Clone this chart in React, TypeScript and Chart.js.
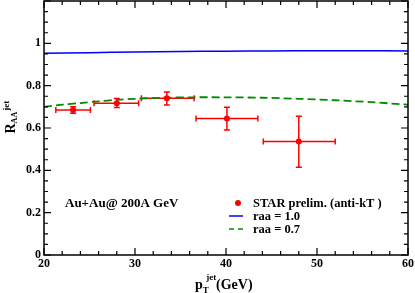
import React, { useEffect, useRef } from 'react';
import { Chart, registerables } from 'chart.js';

Chart.register(...registerables);

// STAR preliminary data points
const starPt = [23.2, 28.0, 33.5, 40.1, 48.0];
const starRaa = [0.685, 0.717, 0.741, 0.645, 0.536];
const starXLow = [21.3, 25.5, 30.7, 36.7, 44.1];
const starXHigh = [25.1, 30.4, 36.5, 43.5, 52.0];
const starYLow = [0.670, 0.697, 0.709, 0.591, 0.415];
const starYHigh = [0.700, 0.739, 0.770, 0.698, 0.656];

// model curves
const curve10X = [20, 25, 30, 35, 40, 45, 50, 55, 60];
const curve10Y = [0.953, 0.956, 0.959, 0.961, 0.963, 0.964, 0.965, 0.965, 0.964];
const curve07X = [20, 22, 24, 26, 28, 30, 33, 36, 40, 44, 48, 52, 56, 60];
const curve07Y = [0.700, 0.710, 0.718, 0.726, 0.733, 0.738, 0.743, 0.745, 0.745, 0.743, 0.738, 0.731, 0.722, 0.710];

// ticks
const xTickValues = [20, 30, 40, 50, 60];
const xTickLabels = ['20', '30', '40', '50', '60'];
const yTickValues = [0, 0.2, 0.4, 0.6, 0.8, 1.0];
const yTickLabels = ['0', '0.2', '0.4', '0.6', '0.8', '1'];

const legendLabels = ['STAR prelim. (anti-kT )', 'raa = 1.0', 'raa = 0.7'];
const systemLabel = 'Au+Au@ 200A GeV';

const RED = 'rgb(255,0,0)';
const BLUE = 'rgb(0,0,255)';
const GREEN = 'rgb(0,140,0)';
const SERIF = "'Liberation Serif', 'Times New Roman', serif";

const decorPlugin = {
  id: 'decor',
  beforeDatasetsDraw(chart: any) {
    const ctx = chart.ctx;
    const xs = chart.scales.x;
    const ys = chart.scales.y;
    ctx.save();
    ctx.strokeStyle = RED;
    ctx.lineWidth = 1.5;
    const cap = 3;
    for (let i = 0; i < starPt.length; i++) {
      const px = xs.getPixelForValue(starPt[i]);
      const py = ys.getPixelForValue(starRaa[i]);
      const xl = xs.getPixelForValue(starXLow[i]);
      const xh = xs.getPixelForValue(starXHigh[i]);
      const yl = ys.getPixelForValue(starYLow[i]);
      const yh = ys.getPixelForValue(starYHigh[i]);
      ctx.beginPath();
      ctx.moveTo(xl, py); ctx.lineTo(xh, py);
      ctx.moveTo(xl, py - cap); ctx.lineTo(xl, py + cap);
      ctx.moveTo(xh, py - cap); ctx.lineTo(xh, py + cap);
      ctx.moveTo(px, yl); ctx.lineTo(px, yh);
      ctx.moveTo(px - cap, yl); ctx.lineTo(px + cap, yl);
      ctx.moveTo(px - cap, yh); ctx.lineTo(px + cap, yh);
      ctx.stroke();
    }
    ctx.restore();
  },
  afterDraw(chart: any) {
    const ctx = chart.ctx;
    const ca = chart.chartArea;
    const xs = chart.scales.x;
    const ys = chart.scales.y;
    ctx.save();
    // frame
    ctx.strokeStyle = '#000';
    ctx.lineWidth = 1.5;
    ctx.strokeRect(ca.left, ca.top, ca.right - ca.left, ca.bottom - ca.top);
    // ticks
    ctx.lineWidth = 1.2;
    ctx.beginPath();
    for (let v = 20; v <= 60; v += 2) {
      const px = xs.getPixelForValue(v);
      const len = v % 10 === 0 ? 7 : 4;
      ctx.moveTo(px, ca.bottom); ctx.lineTo(px, ca.bottom - len);
      ctx.moveTo(px, ca.top); ctx.lineTo(px, ca.top + len);
    }
    for (let i = 0; i <= 24; i++) {
      const py = ys.getPixelForValue(i * 0.05);
      const len = i % 4 === 0 ? 7 : 4;
      ctx.moveTo(ca.left, py); ctx.lineTo(ca.left + len, py);
      ctx.moveTo(ca.right, py); ctx.lineTo(ca.right - len, py);
    }
    ctx.stroke();

    ctx.fillStyle = '#000';
    ctx.textBaseline = 'alphabetic';
    ctx.textAlign = 'left';

    // x axis title: p_T^jet (GeV)
    const cx = (ca.left + ca.right) / 2;
    const bx = cx - 31;
    const by = ca.bottom + 34;
    ctx.font = `bold 14px ${SERIF}`;
    ctx.fillText('p', bx, by);
    const pw = ctx.measureText('p').width;
    ctx.font = `bold 9px ${SERIF}`;
    ctx.fillText('T', bx + pw, by + 3.5);
    ctx.fillText('jet', bx + pw + 3.5, by - 9.5);
    ctx.font = `bold 14px ${SERIF}`;
    ctx.fillText('(GeV)', bx + 21, by);

    // y axis title: R_AA^jet
    const cy = (ca.top + ca.bottom) / 2;
    ctx.save();
    ctx.translate(14.5, cy + 5.5);
    ctx.rotate(-Math.PI / 2);
    ctx.font = `bold 14px ${SERIF}`;
    ctx.fillText('R', 0, 0);
    const rw = ctx.measureText('R').width;
    ctx.font = `bold 8px ${SERIF}`;
    ctx.fillText('AA', rw, 2.5);
    const aw = ctx.measureText('AA').width;
    ctx.font = `bold 9px ${SERIF}`;
    ctx.fillText('jet', rw + aw + 1, -6);
    ctx.restore();

    // system label
    ctx.font = `bold 13px ${SERIF}`;
    ctx.fillText(systemLabel, ca.left + 21, ca.bottom - 48);

    // legend
    const lx = ca.left + 185;
    const rows = [ca.bottom - 52, ca.bottom - 39, ca.bottom - 26];
    const tx = ca.left + 209;
    ctx.fillStyle = RED;
    ctx.beginPath();
    ctx.arc(lx + 9, rows[0], 3, 0, Math.PI * 2);
    ctx.fill();
    ctx.strokeStyle = BLUE;
    ctx.lineWidth = 1.5;
    ctx.beginPath();
    ctx.moveTo(lx, rows[1]); ctx.lineTo(lx + 14, rows[1]);
    ctx.stroke();
    ctx.strokeStyle = GREEN;
    ctx.setLineDash([5, 4]);
    ctx.beginPath();
    ctx.moveTo(lx, rows[2]); ctx.lineTo(lx + 14, rows[2]);
    ctx.stroke();
    ctx.setLineDash([]);
    ctx.fillStyle = '#000';
    ctx.font = `bold 12.5px ${SERIF}`;
    for (let i = 0; i < legendLabels.length; i++) {
      ctx.fillText(legendLabels[i], tx, rows[i] + 4.3);
    }
    ctx.restore();
  },
};

export default function App() {
  const ref = useRef<HTMLCanvasElement>(null);
  useEffect(() => {
    const starData = starPt.map((x, i) => ({ x, y: starRaa[i] }));
    const c10 = curve10X.map((x, i) => ({ x, y: curve10Y[i] }));
    const c07 = curve07X.map((x, i) => ({ x, y: curve07Y[i] }));
    const xTickFont = { family: SERIF, weight: 'bold' as const, size: 12 };
    const yTickFont = { family: SERIF, weight: 'bold' as const, size: 12 };
    const chart = new Chart(ref.current!, {
      type: 'scatter',
      data: {
        datasets: [
          {
            label: legendLabels[0],
            data: starData,
            showLine: false,
            pointRadius: 3,
            pointBackgroundColor: RED,
            pointBorderWidth: 0,
            borderColor: RED,
          },
          {
            label: legendLabels[1],
            data: c10,
            showLine: true,
            pointRadius: 0,
            borderColor: BLUE,
            borderWidth: 1.5,
            tension: 0.3,
          },
          {
            label: legendLabels[2],
            data: c07,
            showLine: true,
            pointRadius: 0,
            borderColor: GREEN,
            borderWidth: 1.8,
            borderDash: [8, 4],
            tension: 0.3,
          },
        ],
      },
      options: {
        animation: false,
        responsive: true,
        maintainAspectRatio: false,
        layout: { autoPadding: false, padding: { top: 1, right: 7, left: 0, bottom: 0 } },
        plugins: { legend: { display: false }, tooltip: { enabled: false } },
        scales: {
          x: {
            type: 'linear',
            min: 20,
            max: 60,
            grid: { display: false, drawTicks: true, tickLength: 2 },
            border: { display: false },
            afterBuildTicks: (s: any) => { s.ticks = xTickValues.map((v) => ({ value: v })); },
            afterFit: (s: any) => {
              s.height = 38;
              s.paddingLeft = 0; s.paddingRight = 0; s.paddingTop = 0; s.paddingBottom = 0;
            },
            ticks: {
              autoSkip: false,
              maxRotation: 0,
              padding: 0,
              color: '#000',
              font: xTickFont,
              callback: (_v: any, i: number) => xTickLabels[i],
            },
          },
          y: {
            type: 'linear',
            min: 0,
            max: 1.2,
            grid: { display: false, drawTicks: true, tickLength: 3 },
            border: { display: false },
            afterBuildTicks: (s: any) => { s.ticks = yTickValues.map((v) => ({ value: v })); },
            afterFit: (s: any) => {
              s.width = 44;
              s.paddingLeft = 0; s.paddingRight = 0; s.paddingTop = 0; s.paddingBottom = 0;
            },
            ticks: {
              autoSkip: false,
              padding: 0,
              color: '#000',
              font: yTickFont,
              callback: (_v: any, i: number) => yTickLabels[i],
            },
          },
        },
      },
      plugins: [decorPlugin],
    });
    return () => chart.destroy();
  }, []);
  return (
    <div style={{ position: 'absolute', left: 0, top: 0, width: 415, height: 293, background: '#fff' }}>
      <canvas ref={ref} />
    </div>
  );
}
